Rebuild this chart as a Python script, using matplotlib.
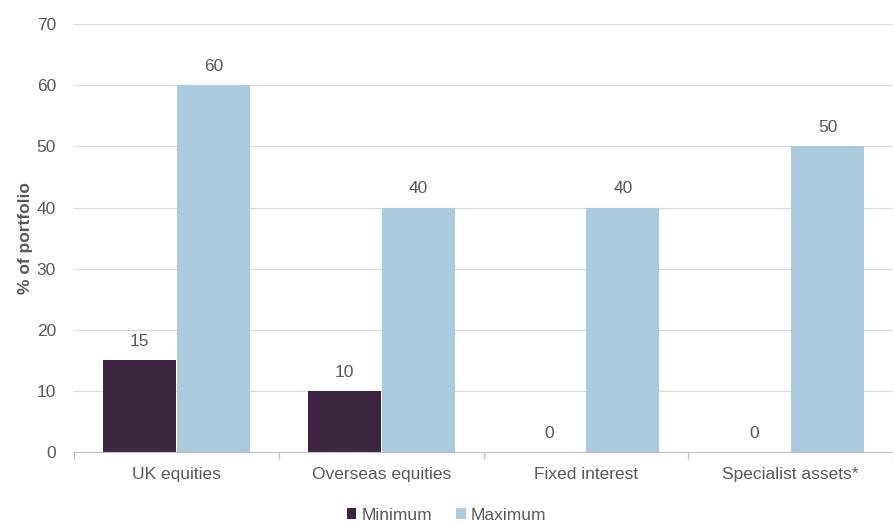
import numpy as np
import matplotlib.pyplot as plt

plt.rcParams['font.family'] = ['Liberation Sans', 'DejaVu Sans']

# Data
categories = ['UK equities', 'Overseas equities', 'Fixed interest', 'Specialist assets*']
minimum = [15, 10, 0, 0]
maximum = [60, 40, 40, 50]

grey = '#595959'
c_min = '#3C2541'
c_max = '#A9CBDD'
fs = 12.5

fig = plt.figure(figsize=(8.93, 5.25), dpi=100)
ax = fig.add_axes([0.083, 0.139, 0.917, 0.815])

x = np.arange(len(categories))
w = 0.357
b1 = ax.bar(x - w / 2 - 0.002, minimum, w, color=c_min, label='Minimum', zorder=3)
b2 = ax.bar(x + w / 2 + 0.002, maximum, w, color=c_max, label='Maximum', zorder=3)

for bars in (b1, b2):
    for rect in bars:
        h = rect.get_height()
        ax.annotate(f'{h:g}', (rect.get_x() + rect.get_width() / 2, h),
                    xytext=(0, 8), textcoords='offset points',
                    ha='center', va='bottom', fontsize=fs, color=grey)

ax.set_xlim(-0.5, len(categories) - 0.5)
ax.set_ylim(0, 70)
ax.set_yticks(range(0, 71, 10))
ax.set_xticks(x)
ax.set_xticklabels(categories)
ax.set_xticks(np.arange(-0.5, len(categories), 1), minor=True)
ax.tick_params(axis='x', which='major', length=0, pad=11, labelsize=fs, labelcolor=grey)
ax.tick_params(axis='x', which='minor', length=5, color='#BFBFBF', width=1)
ax.tick_params(axis='y', length=0, pad=13, labelsize=fs, labelcolor=grey)

ax.grid(axis='y', color='#D9D9D9', linewidth=0.8, zorder=0)
for s in ('top', 'right', 'left'):
    ax.spines[s].set_visible(False)
ax.spines['bottom'].set_color('#BFBFBF')
ax.spines['bottom'].set_zorder(4)

ax.set_ylabel('% of portfolio', fontsize=fs, fontweight='bold', color=grey, labelpad=3)

leg = fig.legend(loc='lower center', bbox_to_anchor=(0.5, -0.025), ncol=2, frameon=False,
                 fontsize=fs, handlelength=0.55, handleheight=0.55, handletextpad=0.3,
                 columnspacing=1.4)
for t in leg.get_texts():
    t.set_color(grey)

fig.savefig('out.png', dpi=100)
